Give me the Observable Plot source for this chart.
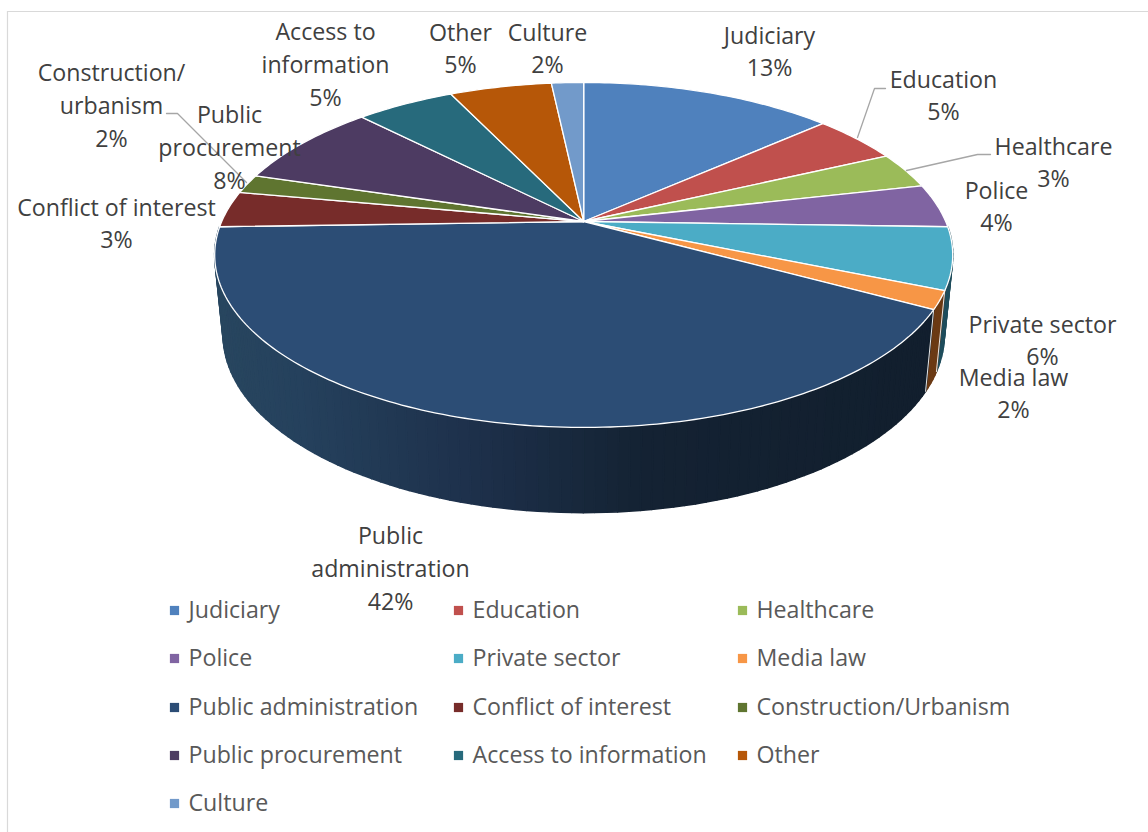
<!DOCTYPE html>
<html>
<head>
<meta charset="utf-8">
<script src="https://cdn.jsdelivr.net/npm/d3@7"></script>
<script src="https://cdn.jsdelivr.net/npm/@observablehq/plot@0.6"></script>
<style>
html,body{margin:0;padding:0;background:#fff;}
svg{display:block;}
</style>
</head>
<body>
<div id="chart"></div>
<script>
const categories = ["Judiciary","Education","Healthcare","Police","Private sector","Media law","Public administration","Conflict of interest","Construction/Urbanism","Public procurement","Access to information","Other","Culture"];
const shares = [13.4,4.6,3.4,4.1,5.8,1.7,41.5,3.4,1.8,8.0,5.2,5.4,1.7];
const sliceColors = ["#4f81bd","#c0504d","#9bbb59","#8064a2","#4bacc6","#f79646","#2c4d75","#772c2a","#5f7530","#4d3b62","#276a7c","#b65708","#729aca"];
const wallColors = {4:"#1f4d5c",5:"#6b3a14"};

// data-label layout (chart-space anchors, separate from the data)
const labelNames = ["Judiciary","Education","Healthcare","Police","Private sector","Media law","Public\nadministration","Conflict of interest","Construction/\nurbanism","Public\nprocurement","Access to\ninformation","Other","Culture"];
const labelX = [769,943,1053,996,1042,1013,390,116,111,229,325,460,547];
const labelY = [49,93,160,204,338,391,566,221,103,145,62,46,46];
const leaders = [
  [[857,137],[874,88],[885,88]],
  [[906,170],[977,154],[990,154]],
  [[246,182],[177,113],[166,113]]
];
const legendColX = [174,458,742];
const legendRowY = [610,658,707,755,803];

// pie projection
const cx=583.2, cy=221, R=362, k=166, p=-0.194;
const deg=Math.PI*2;
function topPt(t){const u=Math.sin(t*deg),v=-Math.cos(t*deg),w=1+p*v;return [cx+R*u/w,cy+k*v/w];}
function botPt(t){const [x,y]=topPt(t);return [cx+(x-cx)*0.977,334.5+(y-254.5)*1.03];}

let acc=0;
const slices=shares.map((s,i)=>{const a=acc/100;acc+=s;return {i,a,b:acc/100,name:categories[i],color:sliceColors[i]};});

const topRows=[];
for(const s of slices){
  topRows.push({key:s.i,x:cx,y:cy,color:s.color});
  const n=Math.max(6,Math.ceil((s.b-s.a)*360));
  for(let j=0;j<=n;j++){const [x,y]=topPt(s.a+(s.b-s.a)*j/n);topRows.push({key:s.i,x,y,color:s.color});}
}

const adminShade=d3.scaleLinear().domain([222,300,480,640,1000]).range(["#28465f","#25415d","#1d304a","#142233","#111e2c"]).interpolate(d3.interpolateRgb);
const wallRows=[];
for(const s of slices.slice(4,7)){
  const n=Math.max(2,Math.ceil((s.b-s.a)*240));
  for(let j=0;j<n;j++){
    const a=s.a+(s.b-s.a)*j/n,b=s.a+(s.b-s.a)*(j+1)/n;
    const mid=botPt((a+b)/2)[0];
    const color=s.i===6?d3.rgb(adminShade(mid)).formatHex():wallColors[s.i];
    const key=s.i+"-"+j;
    for(const [x,y] of [topPt(a),topPt(b),botPt(b),botPt(a)]) wallRows.push({key,x,y,color});
  }
}

const seamRows=[];
for(const i of [5,6]){const t=slices[i].a;for(const [x,y] of [topPt(t),botPt(t)]) seamRows.push({key:i,x,y});}

const labelRows=labelNames.map((n,i)=>({x:labelX[i],y:labelY[i],text:n+"\n"+Math.round(shares[i])+"%"}));
const leaderRows=leaders.flatMap((l,i)=>l.map(([x,y])=>({key:i,x,y})));
const legendRows=categories.map((name,i)=>({name,color:sliceColors[i],x:legendColX[i%3],y:legendRowY[Math.floor(i/3)]}));

const font='"Open Sans", sans-serif';
const chart=Plot.plot({
  width:1148,height:832,
  marginTop:0,marginRight:0,marginBottom:0,marginLeft:0,
  style:{fontFamily:font,background:"#fff"},
  x:{domain:[0,1148],range:[0,1148],axis:null},
  y:{domain:[0,832],range:[0,832],axis:null},
  color:{type:"identity"},
  marks:[
    Plot.ruleY([11],{x1:7,x2:1148,stroke:"#d9d9d9",strokeWidth:1.2}),
    Plot.ruleX([7],{y1:11,y2:832,stroke:"#d9d9d9",strokeWidth:1.2}),
    Plot.line(wallRows,{x:"x",y:"y",z:"key",fill:"color",stroke:"color",strokeWidth:1.6,curve:"linear-closed"}),
    Plot.line(seamRows,{x:"x",y:"y",z:"key",stroke:"#e8e8e8",strokeWidth:1}),
    Plot.line(topRows,{x:"x",y:"y",z:"key",fill:"color",stroke:"#fff",strokeWidth:1.3,strokeLinejoin:"round",curve:"linear-closed"}),
    Plot.line(leaderRows,{x:"x",y:"y",z:"key",stroke:"#a6a6a6",strokeWidth:1.3}),
    Plot.text(labelRows,{x:"x",y:"y",text:"text",fontSize:23.2,lineHeight:1.41,fill:"#404040",textAnchor:"middle",lineAnchor:"middle"}),
    Plot.dot(legendRows,{x:"x",y:"y",symbol:"square",r:5.2,fill:"color",stroke:null}),
    Plot.text(legendRows,{x:d=>d.x+14,y:"y",text:"name",fontSize:23.2,fill:"#595959",textAnchor:"start",lineAnchor:"middle"})
  ]
});
document.getElementById("chart").append(chart);
</script>
</body>
</html>
